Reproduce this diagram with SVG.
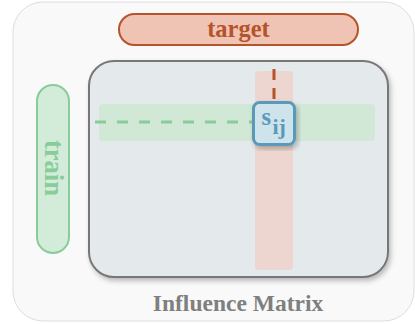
<svg xmlns="http://www.w3.org/2000/svg" width="415" height="324" viewBox="0 0 415 324">
<defs>
<filter id="sh" x="-10%" y="-10%" width="125%" height="125%">
<feDropShadow dx="2" dy="3" stdDeviation="2.5" flood-color="#000" flood-opacity="0.25"/>
</filter>
<style>
.lbl{font-family:"Liberation Serif","Times New Roman",serif;font-weight:bold}
</style>
</defs>
<rect x="13" y="2" width="401" height="319" rx="30" fill="#f9f9f9" stroke="#dddddd" stroke-width="1"/>
<g id="target">
<rect x="119" y="14" width="239" height="31" rx="15.5" fill="#f0c4b4" stroke="#b5532a" stroke-width="2"/>
<text class="lbl" x="238.5" y="37" font-size="24.5" fill="#b5532a" text-anchor="middle">target</text>
</g>
<g id="matrix">
<rect x="89" y="61" width="299" height="216" rx="25" fill="#e4e9ec" stroke="#777777" stroke-width="2" filter="url(#sh)"/>
<rect x="99" y="104" width="276" height="37" rx="4" fill="#d1e8d6"/>
<rect x="255" y="71" width="38" height="199" rx="4" fill="#ecd6cf"/>
</g>
<g id="train">
<rect x="37" y="85" width="32" height="168" rx="16" fill="#d3ecd9" stroke="#88cc99" stroke-width="2"/>
<text class="lbl" transform="translate(53,168) rotate(90)" x="0" y="8.5" font-size="26.5" fill="#88cc99" text-anchor="middle">train</text>
</g>
<g id="connectors">
<line x1="95" y1="122" x2="252" y2="122" stroke="#88cc99" stroke-width="3" stroke-dasharray="11,11"/>
<line x1="274" y1="69" x2="274" y2="103" stroke="#b5532a" stroke-width="3" stroke-dasharray="11,8"/>
</g>
<g id="sij">
<rect x="253.5" y="102.5" width="41" height="42" rx="6" fill="#cfe3ec" stroke="#5a9ab8" stroke-width="3" filter="url(#sh)"/>
<text class="lbl" x="261.5" y="124.5" font-size="24.5" fill="#5a9ab8">s<tspan x="272.5" font-size="22" dy="9">ij</tspan></text>
</g>
<text class="lbl" x="238" y="311" font-size="23.5" fill="#7f7f7f" text-anchor="middle">Influence Matrix</text>
</svg>
